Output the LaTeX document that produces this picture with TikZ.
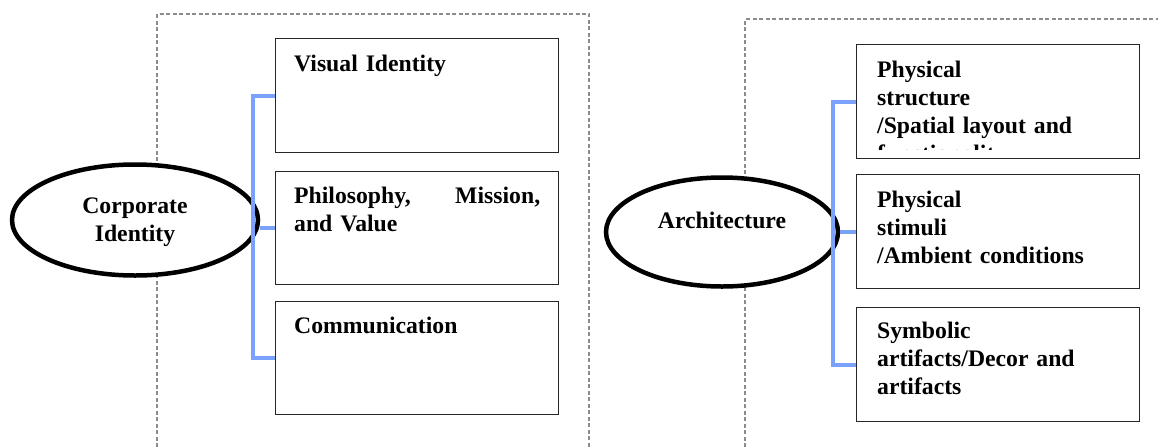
\documentclass[tikz,border=0pt]{standalone}
\usepackage{fontspec}
\setmainfont{Liberation Serif}
\usetikzlibrary{shapes.geometric}
\definecolor{connblue}{RGB}{122,162,252}
\definecolor{dashgray}{RGB}{140,140,140}
\begin{document}
\begin{tikzpicture}[x=1pt,y=-1pt,
  txt/.style={font=\bfseries\fontsize{23.7}{28}\selectfont, inner sep=0pt, align=left, anchor=base west, text width=#1},
  txt/.default=255pt,
  boxnode/.style={draw=black!85, line width=1.3pt, anchor=north west, minimum width=283pt, minimum height=#1, inner sep=0pt},
  ovalnode/.style={ellipse, draw=black, fill=white, line width=4.5pt, inner sep=0pt},
  frame/.style={draw=dashgray, line width=1.3pt, dash pattern=on 4pt off 2.5pt},
  conn/.style={draw=connblue, line width=4pt}]
\useasboundingbox (0,0) rectangle (1158,447);
\clip (0,0) rectangle (1158,447);
% dashed frames
\draw[frame] (157,460) -- (157,14) -- (589,14) -- (589,460);
\draw[frame] (745,460) -- (745,19) -- (1170,19);
% ellipses
\node[ovalnode, minimum width=246pt, minimum height=111pt] (lell) at (135,220) {};
\node[ovalnode, minimum width=232pt, minimum height=109pt] (rell) at (722,232) {};
\node[txt=150pt, align=center, anchor=base] (lelltxt) at (135,213) {Corporate\\Identity};
\node[txt=200pt, align=center, anchor=base] (relltxt) at (722,228) {Architecture};
% boxes left
\node[boxnode=114pt] (lb1) at (274.5,38) {};
\node[boxnode=113pt] (lb2) at (274.5,171) {};
\node[boxnode=113pt] (lb3) at (274.5,301) {};
% boxes right
\node[boxnode=114pt] (rb1) at (856,44) {};
\node[boxnode=114pt] (rb2) at (856,174) {};
\node[boxnode=114pt] (rb3) at (856,307) {};
% connectors
\coordinate (lbar) at (253,0);
\coordinate (rbar) at (833,0);
\draw[conn] (lb1.west) -- (lb1.west -| lbar) -- (lb3.west -| lbar) -- (lb3.west);
\draw[conn] (lell.east |- lb2.west) -- (lb2.west);
\draw[conn] (rb1.west) -- (rb1.west -| rbar) -- (rb3.west -| rbar) -- (rb3.west);
\draw[conn] (rell.east |- rb2.west) -- (rb2.west);
% texts left
\node[txt] (lt1) at (294,71) {Visual Identity};
\node[txt=246pt] (lt2) at (294,203) {Philosophy,\hfill Mission,\\and Value};
\node[txt] (lt3) at (294,333) {Communication};
% texts right
\begin{scope}
\clip (857,45) rectangle (1138,149);
\node[txt] (rt1) at (877,77) {Physical\\structure\\/Spatial layout and\\functionality};
\end{scope}
\node[txt] (rt2) at (877,207) {Physical\\stimuli\\/Ambient conditions};
\node[txt] (rt3) at (877,338) {Symbolic\\artifacts/Decor and\\artifacts};
\end{tikzpicture}
\end{document}
